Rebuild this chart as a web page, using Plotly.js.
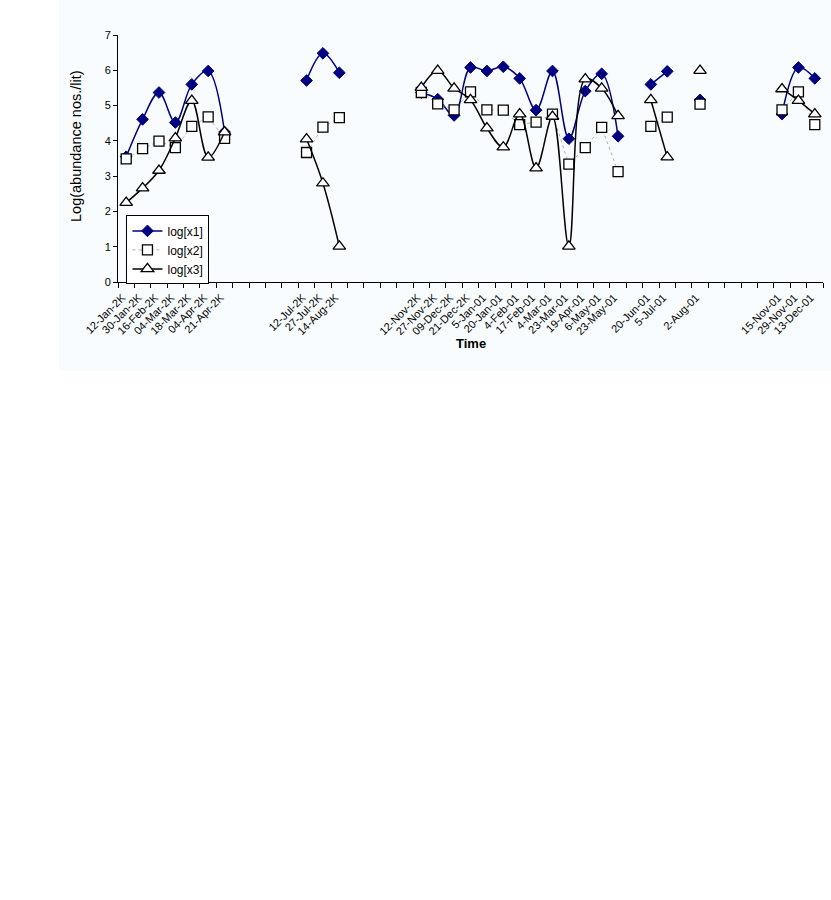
<!DOCTYPE html>
<html>
<head>
<meta charset="utf-8">
<script src="https://cdn.plot.ly/plotly-3.0.1.min.js"></script>
<style>
  html, body { margin: 0; padding: 0; background: #ffffff; width: 831px; height: 900px; overflow: hidden; }
  #chart { position: absolute; left: 59px; top: 0px; width: 772px; height: 371px; }
</style>
</head>
<body>
<div id="chart"></div>
<script>
// Categories (blank ones are unique non-breaking-space strings so they show no label)
const categories = [
  '12-Jan-2K', '30-Jan-2K', '16-Feb-2K', '04-Mar-2K', '18-Mar-2K', '04-Apr-2K', '21-Apr-2K',
  '\u00a0', '\u00a0\u00a0', '\u00a0\u00a0\u00a0', '\u00a0\u00a0\u00a0\u00a0',
  '12-Jul-2K', '27-Jul-2K', '14-Aug-2K',
  '\u00a0\u00a0\u00a0\u00a0\u00a0', '\u00a0\u00a0\u00a0\u00a0\u00a0\u00a0', '\u00a0\u00a0\u00a0\u00a0\u00a0\u00a0\u00a0', '\u00a0\u00a0\u00a0\u00a0\u00a0\u00a0\u00a0\u00a0',
  '12-Nov-2K', '27-Nov-2K', '09-Dec-2K', '21-Dec-2K', '5-Jan-01', '20-Jan-01', '4-Feb-01', '17-Feb-01',
  '4-Mar-01', '23-Mar-01', '19-Apr-01', '6-May-01', '23-May-01',
  '\u00a0\u00a0\u00a0\u00a0\u00a0\u00a0\u00a0\u00a0\u00a0',
  '20-Jun-01', '5-Jul-01',
  '\u00a0\u00a0\u00a0\u00a0\u00a0\u00a0\u00a0\u00a0\u00a0\u00a0',
  '2-Aug-01',
  '\u00a0\u00a0\u00a0\u00a0\u00a0\u00a0\u00a0\u00a0\u00a0\u00a0\u00a0', '\u00a0\u00a0\u00a0\u00a0\u00a0\u00a0\u00a0\u00a0\u00a0\u00a0\u00a0\u00a0',
  '\u00a0\u00a0\u00a0\u00a0\u00a0\u00a0\u00a0\u00a0\u00a0\u00a0\u00a0\u00a0\u00a0', '\u00a0\u00a0\u00a0\u00a0\u00a0\u00a0\u00a0\u00a0\u00a0\u00a0\u00a0\u00a0\u00a0\u00a0',
  '15-Nov-01', '29-Nov-01', '13-Dec-01'
];

const logX1 = [
  3.55, 4.61, 5.37, 4.52, 5.60, 5.98, 4.25,
  null, null, null, null,
  5.71, 6.48, 5.93,
  null, null, null, null,
  5.37, 5.18, 4.72, 6.08, 5.98, 6.10, 5.77, 4.87, 5.98, 4.06, 5.41, 5.90, 4.13,
  null,
  5.60, 5.97,
  null,
  5.16,
  null, null, null, null,
  4.76, 6.08, 5.77
];

const logX2 = [
  3.49, 3.78, 3.99, 3.81, 4.41, 4.68, 4.07,
  null, null, null, null,
  3.67, 4.39, 4.66,
  null, null, null, null,
  5.37, 5.05, 4.88, 5.39, 4.88, 4.87, 4.46, 4.53, 4.76, 3.34, 3.81, 4.38, 3.13,
  null,
  4.41, 4.67,
  null,
  5.04,
  null, null, null, null,
  4.88, 5.39, 4.46
];

const logX3 = [
  2.25, 2.66, 3.16, 4.08, 5.14, 3.53, 4.25,
  null, null, null, null,
  4.05, 2.80, 1.01,
  null, null, null, null,
  5.51, 5.99, 5.49, 5.16, 4.36, 3.82, 4.76, 3.23, 4.69, 1.01, 5.75, 5.49, 4.71,
  null,
  5.16, 3.54,
  null,
  5.99,
  null, null, null, null,
  5.47, 5.14, 4.76
];

const seriesNames = ['log[x1]', 'log[x2]', 'log[x3]'];
const yTickVals = [0, 1, 2, 3, 4, 5, 6, 7];
const xTitle = 'Time';
const yTitle = 'Log(abundance nos./lit)';

const FONT = 'Arial, "Liberation Sans", sans-serif';

const traces = [
  {
    x: categories, y: logX1, name: seriesNames[0], type: 'scatter', mode: 'lines+markers',
    connectgaps: false,
    line: { color: '#000080', width: 1.5, shape: 'spline', smoothing: 1 },
    marker: { symbol: 'diamond', size: 9, color: '#000080', line: { color: '#000080', width: 1 } }
  },
  {
    x: categories, y: logX2, name: seriesNames[1], type: 'scatter', mode: 'lines+markers',
    connectgaps: false,
    line: { color: '#b0b0b0', width: 1, dash: '3px,3px' },
    marker: { symbol: 'square', size: 10, color: '#ffffff', line: { color: '#000000', width: 1.3 } }
  },
  {
    x: categories, y: logX3, name: seriesNames[2], type: 'scatter', mode: 'lines+markers',
    connectgaps: false,
    line: { color: '#000000', width: 1.5, shape: 'spline', smoothing: 1 },
    marker: { symbol: 'triangle-up', size: 11, color: '#ffffff', line: { color: '#000000', width: 1.3 } }
  }
];

const layout = {
  width: 772, height: 371,
  margin: { l: 59, r: 8, t: 35, b: 89, autoexpand: false },
  paper_bgcolor: '#f8fcfe',
  plot_bgcolor: 'rgba(0,0,0,0)',
  font: { family: FONT, color: '#000000', size: 11 },
  showlegend: true,
  legend: {
    x: 0.012, y: 0.13, xanchor: 'left', yanchor: 'middle',
    bgcolor: '#ffffff', bordercolor: '#000000', borderwidth: 1,
    font: { family: FONT, size: 12, color: '#000000' },
    tracegroupgap: 0
  },
  xaxis: {
    type: 'category',
    categoryorder: 'array', categoryarray: categories,
    range: [-0.5, categories.length - 0.5],
    autorange: false,
    automargin: false,
    tickson: 'boundaries',
    ticks: 'outside', ticklen: 5, tickwidth: 1, tickcolor: '#000000',
    showline: true, linecolor: '#000000', linewidth: 1,
    showgrid: false, zeroline: false,
    tickangle: -45,
    ticklabelshift: -4,
    ticklabelstandoff: 4,
    tickfont: { family: FONT, size: 11, color: '#000000' },
    fixedrange: true
  },
  yaxis: {
    range: [0, 7],
    autorange: false,
    automargin: false,
    tickvals: yTickVals,
    ticks: 'outside', ticklen: 4, tickwidth: 1, tickcolor: '#000000',
    showline: true, linecolor: '#000000', linewidth: 1,
    showgrid: false, zeroline: false,
    tickfont: { family: FONT, size: 11, color: '#000000' },
    fixedrange: true
  },
  annotations: [
    {
      text: '<b>' + xTitle + '</b>', xref: 'paper', yref: 'paper',
      x: 0.5007, y: -0.251, xanchor: 'center', yanchor: 'middle', showarrow: false,
      font: { family: FONT, size: 13, color: '#000000' }
    },
    {
      text: yTitle, xref: 'paper', yref: 'paper', textangle: -90,
      x: -0.0596, y: 0.5506, xanchor: 'center', yanchor: 'middle', showarrow: false,
      font: { family: FONT, size: 14.5, color: '#000000' }
    }
  ]
};

Plotly.newPlot('chart', traces, layout, { displayModeBar: false, staticPlot: true });
</script>
</body>
</html>
